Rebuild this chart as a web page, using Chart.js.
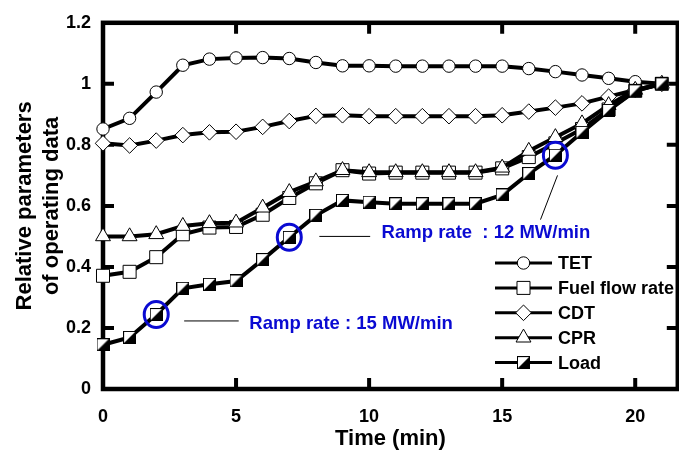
<!DOCTYPE html>
<html>
<head>
<meta charset="utf-8">
<script src="https://cdn.jsdelivr.net/npm/chart.js@4/dist/chart.umd.min.js"></script>
<style>
  html, body { margin: 0; padding: 0; background: #fff; overflow: hidden; }
</style>
</head>
<body>
<canvas id="data" width="688" height="450"></canvas>
<script>
var minutes = [0, 1, 2, 3, 4, 5, 6, 7, 8, 9, 10, 11, 12, 13, 14, 15, 16, 17, 18, 19, 20, 21];

var tet  = [0.852, 0.887, 0.973, 1.061, 1.081, 1.085, 1.086, 1.083, 1.070, 1.059, 1.059,
            1.058, 1.058, 1.058, 1.058, 1.058, 1.050, 1.040, 1.029, 1.018, 1.007, 1.000];
var fuel = [0.371, 0.384, 0.432, 0.507, 0.529, 0.531, 0.571, 0.626, 0.674, 0.717, 0.706,
            0.709, 0.709, 0.709, 0.709, 0.723, 0.760, 0.805, 0.852, 0.916, 0.977, 1.000];
var cdt  = [0.805, 0.798, 0.814, 0.832, 0.841, 0.843, 0.859, 0.878, 0.895, 0.897, 0.894,
            0.894, 0.894, 0.894, 0.894, 0.897, 0.909, 0.922, 0.936, 0.958, 0.980, 1.000];
var cpr  = [0.500, 0.500, 0.507, 0.534, 0.543, 0.545, 0.594, 0.645, 0.680, 0.717, 0.710,
            0.710, 0.710, 0.710, 0.710, 0.725, 0.780, 0.825, 0.870, 0.930, 0.980, 1.000];
var load = [0.145, 0.169, 0.244, 0.330, 0.343, 0.354, 0.424, 0.497, 0.569, 0.618, 0.612,
            0.607, 0.607, 0.607, 0.607, 0.636, 0.706, 0.766, 0.841, 0.913, 0.977, 1.000];

var series_names = ["TET", "Fuel flow rate", "CDT", "CPR", "Load"];

// minutes where the load ramp is marked, and the ramp notes
var ramp_minutes = [2, 7, 17];
var ramp_notes = ["Ramp rate : 15 MW/min", "Ramp rate  : 12 MW/min"];

var FONT = '"Liberation Sans", Arial, sans-serif';
var BLUE = '#0a0ad2';

// square with the lower-right half filled, used for the load markers
function half_square(size) {
    var c = document.createElement('canvas');
    c.width = size;
    c.height = size;
    var g = c.getContext('2d');
    g.fillStyle = '#fff';
    g.fillRect(0, 0, size, size);
    g.fillStyle = '#000';
    g.beginPath();
    g.moveTo(size, 0);
    g.lineTo(size, size);
    g.lineTo(0, size);
    g.closePath();
    g.fill();
    g.strokeStyle = '#000';
    g.lineWidth = 1;
    g.strokeRect(0.5, 0.5, size - 1, size - 1);
    return c;
}

function series(label, values, style, radius, order) {
    return {
        label: label,
        data: minutes.map((m, i) => ({x: m, y: values[i]})),
        borderColor: '#000',
        borderWidth: 4,
        pointStyle: style,
        pointRadius: radius,
        pointBackgroundColor: '#fff',
        pointBorderColor: '#000',
        pointBorderWidth: 1,
        tension: 0,
        clip: false,
        order: order
    };
}

// box round the plot with inward ticks on all four sides
var frame_plugin = {
    id: 'frame',
    beforeDatasetsDraw(chart) {
        var a = chart.chartArea, ctx = chart.ctx;
        var xs = chart.scales.x, ys = chart.scales.y;
        ctx.save();
        ctx.strokeStyle = '#000';
        ctx.lineWidth = 4.5;
        ctx.strokeRect(a.left, a.top, a.right - a.left, a.bottom - a.top);
        ctx.lineWidth = 4;
        ctx.beginPath();
        xs.ticks.forEach(t => {
            if (t.value <= xs.min || t.value >= xs.max) return;
            var px = xs.getPixelForValue(t.value);
            ctx.moveTo(px, a.bottom); ctx.lineTo(px, a.bottom - 11);
            ctx.moveTo(px, a.top); ctx.lineTo(px, a.top + 11);
        });
        ys.ticks.forEach(t => {
            if (t.value <= ys.min + 1e-9 || t.value >= ys.max - 1e-9) return;
            var py = ys.getPixelForValue(t.value);
            ctx.moveTo(a.left, py); ctx.lineTo(a.left + 11, py);
            ctx.moveTo(a.right, py); ctx.lineTo(a.right - 11, py);
        });
        ctx.stroke();
        ctx.restore();
    }
};

// blue rings on the load line, leader lines and ramp notes
var ramp_plugin = {
    id: 'ramp',
    afterDatasetsDraw(chart) {
        var xs = chart.scales.x, ys = chart.scales.y, ctx = chart.ctx;
        var X = v => xs.getPixelForValue(v), Y = v => ys.getPixelForValue(v);
        ctx.save();
        ctx.strokeStyle = BLUE;
        ctx.lineWidth = 3;
        ramp_minutes.forEach(m => {
            var i = minutes.indexOf(m);
            ctx.beginPath();
            ctx.ellipse(X(m), Y(load[i]), 12, 13, 0, 0, 2 * Math.PI);
            ctx.stroke();
        });

        var leaders = [[3.05, 0.223, 5.10, 0.223], [8.13, 0.500, 10.04, 0.500], [17.08, 0.700, 16.44, 0.555]];
        ctx.strokeStyle = '#000';
        ctx.lineWidth = 1;
        ctx.beginPath();
        leaders.forEach(l => {
            ctx.moveTo(X(l[0]), Y(l[1]));
            ctx.lineTo(X(l[2]), Y(l[3]));
        });
        ctx.stroke();

        var spots = [[5.50, 0.214], [10.47, 0.511]];
        ctx.fillStyle = BLUE;
        ctx.font = 'bold 18.5px ' + FONT;
        ctx.textBaseline = 'middle';
        ctx.textAlign = 'left';
        ramp_notes.forEach((t, i) => ctx.fillText(t, X(spots[i][0]), Y(spots[i][1])));
        ctx.restore();
    }
};

// legend drawn inside the plot, line with marker then name
var key_plugin = {
    id: 'key',
    afterDraw(chart) {
        var ctx = chart.ctx;
        ctx.save();
        ctx.font = 'bold 18px ' + FONT;
        ctx.textBaseline = 'middle';
        ctx.textAlign = 'left';
        chart.data.datasets.forEach((ds, i) => {
            var y = 263 + i * 24.9;
            ctx.strokeStyle = '#000';
            ctx.lineWidth = 3;
            ctx.beginPath();
            ctx.moveTo(495, y);
            ctx.lineTo(552, y);
            ctx.stroke();
            ctx.fillStyle = '#fff';
            ctx.lineWidth = 1;
            Chart.helpers.drawPoint(ctx, {pointStyle: ds.pointStyle, radius: ds.pointRadius, rotation: 0, borderWidth: 1}, 523.5, y);
            ctx.fillStyle = '#000';
            ctx.fillText(ds.label, 558, y + 1);
        });
        ctx.restore();
    }
};

Chart.defaults.color = '#000';
Chart.defaults.font.family = FONT;

var config = {
    type: 'line',
    data: {
        datasets: [
            series(series_names[0], tet, 'circle', 6.2, 4),
            series(series_names[1], fuel, 'rect', 9.2, 2),
            series(series_names[2], cdt, 'rectRot', 7.8, 3),
            series(series_names[3], cpr, 'triangle', 8.6, 1),
            series(series_names[4], load, half_square(13), 7, 0)
        ]
    },
    options: {
        responsive: false,
        animation: false,
        layout: { padding: { top: 17, right: 4, left: 0, bottom: 0 } },
        plugins: {
            legend: { display: false },
            tooltip: { enabled: false }
        },
        scales: {
            x: {
                type: 'linear',
                min: 0,
                max: 21.6,
                afterFit: s => { s.height = 61; },
                grid: { display: false, drawTicks: false },
                border: { display: false },
                ticks: {
                    stepSize: 5,
                    includeBounds: false,
                    padding: 17,
                    font: { size: 18, weight: 'bold' }
                },
                title: {
                    display: true,
                    text: 'Time (min)',
                    padding: { top: 0, bottom: 0 },
                    font: { size: 22, weight: 'bold', lineHeight: 1 }
                }
            },
            y: {
                min: 0,
                max: 1.2,
                afterFit: s => { s.width = 103; },
                grid: { display: false, drawTicks: false },
                border: { display: false },
                ticks: {
                    stepSize: 0.2,
                    padding: 12,
                    font: { size: 18, weight: 'bold' },
                    callback: v => String(+v.toFixed(1))
                },
                title: {
                    display: true,
                    text: ['Relative parameters', 'of operating data'],
                    padding: { top: 12, bottom: 0 },
                    font: { size: 22, weight: 'bold', lineHeight: 1.2 }
                }
            }
        }
    },
    plugins: [frame_plugin, ramp_plugin, key_plugin]
};

(function() {
    new Chart(document.getElementById('data'), config);
})();
</script>
</body>
</html>
